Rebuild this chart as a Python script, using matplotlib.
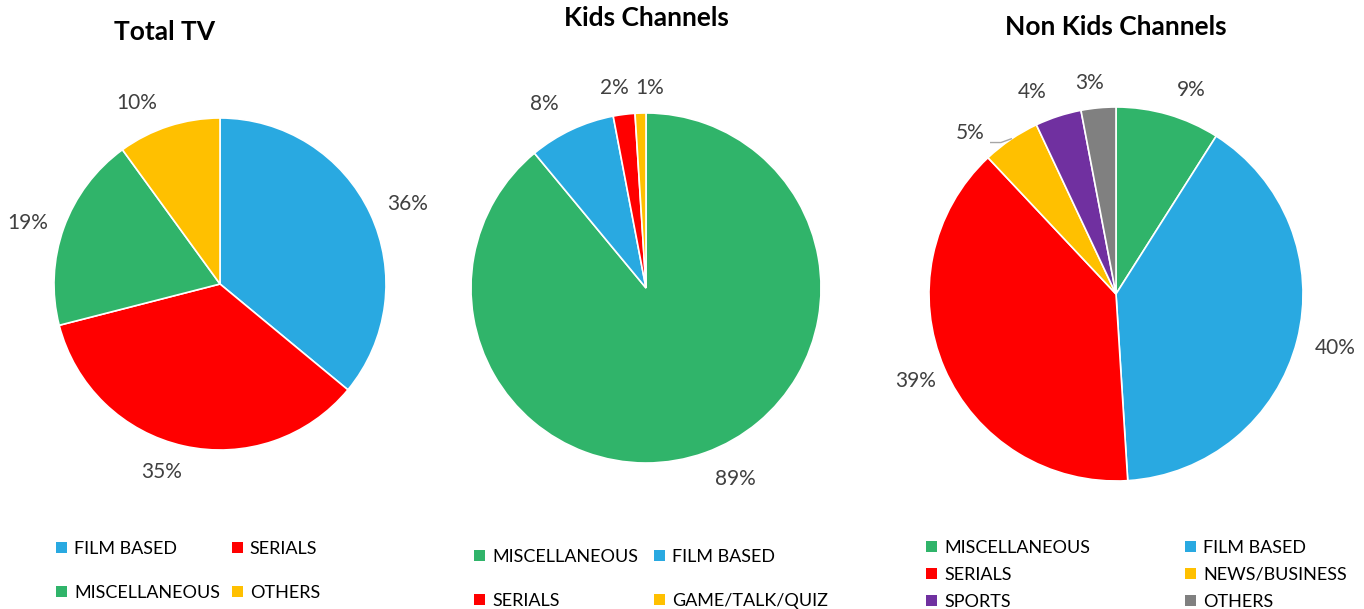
import matplotlib
matplotlib.use("Agg")
import matplotlib.pyplot as plt
from matplotlib.patches import Patch

plt.rcParams['font.family'] = ['Lato', 'DejaVu Sans']

# Genre share of viewing, by channel group
total_labels = ['FILM BASED', 'SERIALS', 'MISCELLANEOUS', 'OTHERS']
total_values = [36, 35, 19, 10]

kids_labels = ['MISCELLANEOUS', 'FILM BASED', 'SERIALS', 'GAME/TALK/QUIZ']
kids_values = [89, 8, 2, 1]

nonkids_labels = ['MISCELLANEOUS', 'FILM BASED', 'SERIALS', 'NEWS/BUSINESS', 'SPORTS', 'OTHERS']
nonkids_values = [9, 40, 39, 5, 4, 3]

genre_colors = {
    'FILM BASED': '#29A9E1',
    'SERIALS': '#FF0000',
    'MISCELLANEOUS': '#30B46A',
    'OTHERS': '#FFC000',
    'GAME/TALK/QUIZ': '#FFC000',
    'NEWS/BUSINESS': '#FFC000',
    'SPORTS': '#7030A0',
}

W, H = 1364, 609
fig = plt.figure(figsize=(W / 100, H / 100), dpi=100)


def pie_axes(cx, cy, r):
    # square axes centred on pixel position (cx, cy), top-left origin
    return fig.add_axes([(cx - r) / W, (H - cy - r) / H, 2 * r / W, 2 * r / H])


def draw_pie(ax, values, colors, dist, label_pos):
    wedges, texts = ax.pie(values, colors=colors, startangle=90, counterclock=False,
                           radius=1.0, labels=[f'{v}%' for v in values], labeldistance=dist,
                           wedgeprops=dict(edgecolor='white', linewidth=1.2),
                           textprops=dict(fontsize=15, color='#404040'))
    for t in texts:
        t.set_ha('center')
        t.set_va('center')
    # hand-placed ("best fit") label spots, in units of the radius
    for i, pos in label_pos.items():
        texts[i].set_position(pos)
    ax.set_xlim(-1, 1)
    ax.set_ylim(-1, 1)
    ax.axis('off')
    return wedges, texts


def add_legend(labels, colors, x, y, colspacing, rowspacing):
    # two columns, filled row by row
    order = list(range(0, len(labels), 2)) + list(range(1, len(labels), 2))
    handles = [Patch(facecolor=colors[i], edgecolor='none') for i in order]
    fig.legend(handles, [labels[i] for i in order], loc='upper left',
               bbox_to_anchor=(x / W, 1 - y / H),
               ncol=2, frameon=False, fontsize=13, handlelength=0.6, handleheight=0.6,
               handletextpad=0.4, columnspacing=colspacing, labelspacing=rowspacing,
               borderaxespad=0, borderpad=0)


# Total TV
ax1 = pie_axes(220, 284, 166)
draw_pie(ax1, total_values, [genre_colors[l] for l in total_labels], 1.21,
         {0: (1.13, 0.48), 1: (-0.35, -1.13), 2: (-1.16, 0.37), 3: (-0.50, 1.09)})
fig.text(165 / W, 1 - 32 / H, 'Total TV', ha='center', va='center', fontsize=19, fontweight='bold')
add_legend(total_labels, [genre_colors[l] for l in total_labels], 56, 541, 0.65, 1.55)

# Kids channels
ax2 = pie_axes(646, 288, 175)
draw_pie(ax2, kids_values, [genre_colors[l] for l in kids_labels], 1.2,
         {0: (0.51, -1.09), 1: (-0.58, 1.05), 2: (-0.18, 1.14), 3: (0.02, 1.14)})
fig.text(646 / W, 1 - 18 / H, 'Kids Channels', ha='center', va='center', fontsize=19, fontweight='bold')
add_legend(kids_labels, [genre_colors[l] for l in kids_labels], 474, 549, 0.9, 1.55)

# Non kids channels
nk_colors = [genre_colors[l] for l in nonkids_labels]
nk_colors[-1] = '#808080'
ax3 = pie_axes(1116, 294, 187)
draw_pie(ax3, nonkids_values, nk_colors, 1.17,
         {0: (0.40, 1.09), 1: (1.17, -0.29), 3: (-0.78, 0.86), 4: (-0.45, 1.08), 5: (-0.14, 1.13)})
# leader line from the 5% label to its slice
ax3.plot([-0.67, -0.615, -0.56], [0.81, 0.81, 0.83], color='#A6A6A6', lw=1, clip_on=False)
fig.text(1116 / W, 1 - 27 / H, 'Non Kids Channels', ha='center', va='center', fontsize=19, fontweight='bold')
add_legend(nonkids_labels, nk_colors, 926, 540, 5.25, 0.6)

fig.savefig('out.png', dpi=100, facecolor='white')
